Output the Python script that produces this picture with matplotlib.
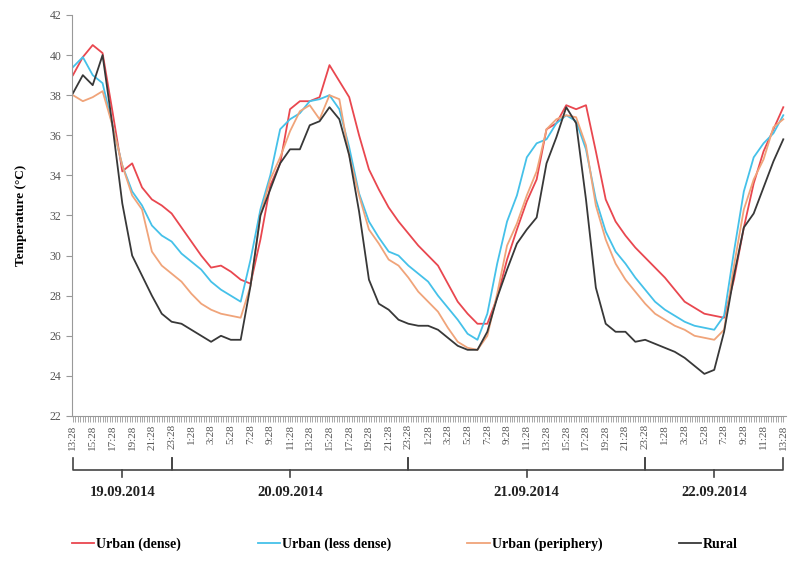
import numpy as np
import matplotlib.pyplot as plt
from matplotlib.transforms import blended_transform_factory

plt.rcParams['font.family'] = ['Liberation Serif', 'DejaVu Serif']

# hourly readings, 19.09.2014 13:28 -> 22.09.2014 13:28
hours = np.arange(73)

dense = [39.0, 39.9, 40.5, 40.1, 37.2, 34.2, 34.6, 33.4, 32.8, 32.5,
         32.1, 31.4, 30.7, 30.0, 29.4, 29.5, 29.2, 28.8, 28.6, 30.8,
         33.5, 34.6, 37.3, 37.7, 37.7, 37.9, 39.5, 38.7, 37.9, 36.0,
         34.3, 33.3, 32.4, 31.7, 31.1, 30.5, 30.0, 29.5, 28.6, 27.7,
         27.1, 26.6, 26.6, 27.9, 29.8, 31.3, 32.7, 33.8, 36.3, 36.6,
         37.5, 37.3, 37.5, 35.2, 32.8, 31.7, 31.0, 30.4, 29.9, 29.4,
         28.9, 28.3, 27.7, 27.4, 27.1, 27.0, 26.9, 28.8, 31.4, 33.6,
         35.2, 36.3, 37.4]

less_dense = [39.4, 39.9, 39.0, 38.6, 36.5, 34.5, 33.2, 32.5, 31.5, 31.0,
              30.7, 30.1, 29.7, 29.3, 28.7, 28.3, 28.0, 27.7, 29.8, 32.3,
              34.0, 36.3, 36.8, 37.1, 37.7, 37.8, 38.0, 37.3, 35.4, 33.1,
              31.7, 30.9, 30.2, 30.0, 29.5, 29.1, 28.7, 28.0, 27.4, 26.8,
              26.1, 25.8, 27.1, 29.6, 31.7, 33.0, 34.9, 35.6, 35.8, 36.6,
              37.0, 36.7, 35.3, 32.8, 31.2, 30.2, 29.6, 28.9, 28.3, 27.7,
              27.3, 27.0, 26.7, 26.5, 26.4, 26.3, 27.0, 30.2, 33.2, 34.9,
              35.6, 36.1, 37.0]

periphery = [38.0, 37.7, 37.9, 38.2, 36.5, 34.5, 33.0, 32.3, 30.2, 29.5,
             29.1, 28.7, 28.1, 27.6, 27.3, 27.1, 27.0, 26.9, 28.5, 32.0,
             33.8, 34.9, 36.2, 37.2, 37.5, 36.8, 38.0, 37.8, 35.0, 33.0,
             31.3, 30.6, 29.8, 29.5, 28.9, 28.2, 27.7, 27.2, 26.4, 25.7,
             25.4, 25.3, 26.0, 28.1, 30.5, 31.6, 33.0, 34.2, 36.3, 36.8,
             37.0, 36.9, 35.5, 32.5, 30.8, 29.6, 28.8, 28.2, 27.6, 27.1,
             26.8, 26.5, 26.3, 26.0, 25.9, 25.8, 26.3, 29.5, 32.3, 33.8,
             34.8, 36.4, 36.8]

rural = [38.1, 39.0, 38.5, 40.0, 36.5, 32.6, 30.0, 29.0, 28.0, 27.1,
         26.7, 26.6, 26.3, 26.0, 25.7, 26.0, 25.8, 25.8, 28.5, 32.0,
         33.3, 34.6, 35.3, 35.3, 36.5, 36.7, 37.4, 36.8, 35.0, 32.2,
         28.8, 27.6, 27.3, 26.8, 26.6, 26.5, 26.5, 26.3, 25.9, 25.5,
         25.3, 25.3, 26.2, 27.9, 29.3, 30.6, 31.3, 31.9, 34.6, 35.9,
         37.4, 36.6, 32.8, 28.4, 26.6, 26.2, 26.2, 25.7, 25.8, 25.6,
         25.4, 25.2, 24.9, 24.5, 24.1, 24.3, 26.2, 29.0, 31.4, 32.1,
         33.4, 34.7, 35.8]

tick_labels = ['{0}:28'.format((13 + h) % 24) for h in range(0, 73, 2)]
days = ['19.09.2014', '20.09.2014', '21.09.2014', '22.09.2014']
day_bounds = [0, 10, 34, 58, 72]

series = [('Urban (dense)', dense, '#e9474f'),
          ('Urban (less dense)', less_dense, '#45c1e9'),
          ('Urban (periphery)', periphery, '#f0a47a'),
          ('Rural', rural, '#383838')]

fig = plt.figure(figsize=(7.91, 5.61), dpi=100)
ax = fig.add_axes([0.091, 0.2585, 0.903, 0.7148])

for name, vals, col in series:
    ax.plot(hours, vals, color=col, lw=1.3, label=name)

ax.set_xlim(-0.1, 72.3)
ax.set_ylim(22, 42)
ax.set_yticks(np.arange(22, 43, 2))
ax.set_xticks(np.arange(0, 73, 2))
ax.set_xticklabels(tick_labels, rotation=90, fontsize=8, color='#555555')
ax.set_xticks(np.arange(0, 72.01, 0.25), minor=True)
ax.tick_params(axis='y', labelsize=8.5, labelcolor='#555555', color='#999999',
               length=4, width=0.8)
ax.tick_params(axis='x', which='both', color='#999999', length=4, width=0.6, pad=2)
for s in ['top', 'right']:
    ax.spines[s].set_visible(False)
for s in ['left', 'bottom']:
    ax.spines[s].set_color('#999999')
ax.set_ylabel('Temperature (°C)', fontsize=9.5, fontweight='bold', labelpad=16)

# day brackets under the time labels
trans = blended_transform_factory(ax.transData, ax.transAxes)
yb = -0.135
for i, day in enumerate(days):
    x0, x1 = day_bounds[i], day_bounds[i + 1]
    xc = (x0 + x1) / 2
    ax.plot([x0, x0, x1, x1], [yb + 0.03, yb, yb, yb + 0.03], color='#444444',
            lw=1.2, transform=trans, clip_on=False)
    ax.plot([xc, xc], [yb, yb - 0.018], color='#444444', lw=1.2,
            transform=trans, clip_on=False)
    ax.text(xc, -0.19, day, transform=trans, ha='center', va='center',
            fontsize=10.5, fontweight='bold', color='#222222')

fig.legend(loc='center', bbox_to_anchor=(0.512, 0.03), ncol=4, frameon=False,
           handlelength=1.6, handletextpad=0.15, columnspacing=5.5,
           prop={'size': 10, 'weight': 'bold'})

fig.savefig('out.png', dpi=100)
